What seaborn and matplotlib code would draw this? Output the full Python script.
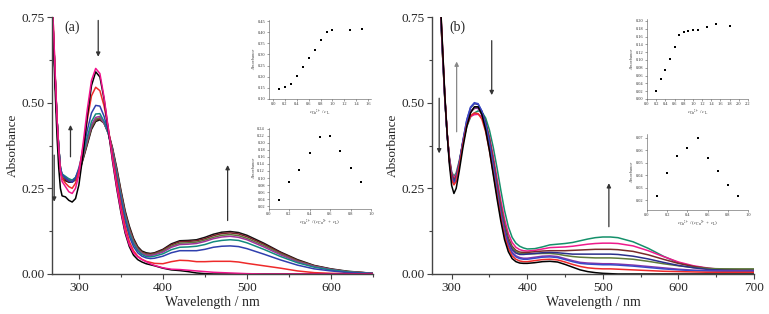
import seaborn as sns
import matplotlib
matplotlib.use('Agg')
import matplotlib.pyplot as plt
import pandas as pd

# ---- panel (a) spectra ----
wl_a = [268, 270, 272, 274, 276, 278, 280, 284, 288, 292, 296, 300, 305, 310, 315, 320, 325, 330,
        335, 340, 345, 350, 355, 360, 365, 370, 375, 380, 385, 390, 400, 410, 420, 430, 440, 450,
        460, 470, 480, 490, 500, 520, 540, 560, 580, 600, 620, 650]
a_black_end = [0.80, 0.68, 0.56, 0.45, 0.37, 0.31, 0.278, 0.272, 0.268, 0.268, 0.275, 0.293, 0.335, 0.378, 0.422, 0.445, 0.45, 0.44,
               0.414, 0.368, 0.31, 0.245, 0.185, 0.14, 0.104, 0.08, 0.067, 0.062, 0.06, 0.062, 0.072, 0.088, 0.097, 0.098, 0.100, 0.107,
               0.116, 0.122, 0.124, 0.121, 0.113, 0.090, 0.064, 0.042, 0.025, 0.015, 0.008, 0.002]
a_brown = [0.80, 0.68, 0.56, 0.45, 0.37, 0.31, 0.282, 0.276, 0.27, 0.27, 0.277, 0.296, 0.338, 0.382, 0.427, 0.449, 0.453, 0.44,
           0.412, 0.365, 0.305, 0.24, 0.18, 0.135, 0.10, 0.077, 0.064, 0.059, 0.058, 0.06, 0.070, 0.085, 0.094, 0.095, 0.097, 0.103,
           0.112, 0.118, 0.120, 0.117, 0.109, 0.087, 0.062, 0.040, 0.024, 0.014, 0.007, 0.002]
a_olive = [0.80, 0.68, 0.56, 0.45, 0.37, 0.31, 0.285, 0.28, 0.274, 0.272, 0.278, 0.298, 0.34, 0.385, 0.43, 0.452, 0.456, 0.44,
           0.41, 0.362, 0.30, 0.235, 0.175, 0.13, 0.096, 0.074, 0.062, 0.057, 0.056, 0.058, 0.067, 0.081, 0.090, 0.091, 0.093, 0.099,
           0.107, 0.113, 0.115, 0.112, 0.104, 0.083, 0.059, 0.038, 0.023, 0.013, 0.007, 0.002]
a_purple = [0.80, 0.68, 0.56, 0.45, 0.37, 0.31, 0.29, 0.283, 0.277, 0.273, 0.28, 0.30, 0.345, 0.39, 0.435, 0.457, 0.46, 0.44,
            0.41, 0.36, 0.295, 0.23, 0.17, 0.125, 0.092, 0.071, 0.06, 0.055, 0.054, 0.056, 0.064, 0.078, 0.086, 0.087, 0.089, 0.095,
            0.103, 0.108, 0.110, 0.107, 0.100, 0.079, 0.056, 0.036, 0.022, 0.013, 0.006, 0.002]
a_teal = [0.80, 0.68, 0.56, 0.45, 0.37, 0.31, 0.292, 0.285, 0.278, 0.274, 0.282, 0.305, 0.35, 0.40, 0.445, 0.467, 0.468, 0.445,
          0.41, 0.355, 0.29, 0.225, 0.165, 0.12, 0.088, 0.068, 0.057, 0.051, 0.05, 0.052, 0.059, 0.071, 0.078, 0.079, 0.081, 0.086,
          0.094, 0.098, 0.100, 0.098, 0.091, 0.072, 0.051, 0.033, 0.020, 0.012, 0.006, 0.001]
a_blue = [0.80, 0.68, 0.56, 0.45, 0.37, 0.31, 0.29, 0.28, 0.272, 0.268, 0.28, 0.31, 0.36, 0.42, 0.47, 0.492, 0.49, 0.46,
          0.415, 0.35, 0.28, 0.215, 0.155, 0.11, 0.08, 0.062, 0.052, 0.047, 0.045, 0.046, 0.052, 0.062, 0.068, 0.068, 0.068, 0.072,
          0.078, 0.081, 0.082, 0.080, 0.074, 0.058, 0.041, 0.026, 0.015, 0.009, 0.004, 0.001]
a_red = [0.82, 0.70, 0.57, 0.45, 0.36, 0.30, 0.28, 0.265, 0.255, 0.25, 0.265, 0.30, 0.37, 0.45, 0.52, 0.545, 0.535, 0.49,
         0.425, 0.345, 0.27, 0.20, 0.14, 0.095, 0.068, 0.052, 0.043, 0.037, 0.034, 0.031, 0.030, 0.036, 0.040, 0.039, 0.036, 0.036,
         0.037, 0.037, 0.037, 0.035, 0.031, 0.024, 0.017, 0.009, 0.004, 0.002, 0.001, 0.0]
a_black_start = [0.80, 0.66, 0.52, 0.40, 0.31, 0.25, 0.228, 0.225, 0.215, 0.21, 0.22, 0.26, 0.35, 0.46, 0.55, 0.59, 0.575, 0.51,
                 0.42, 0.33, 0.25, 0.18, 0.12, 0.08, 0.055, 0.042, 0.035, 0.03, 0.027, 0.024, 0.017, 0.012, 0.010, 0.007, 0.003, 0.001,
                 0.0, 0.0, 0.0, 0.0, 0.0, 0.0, 0.0, 0.0, 0.0, 0.0, 0.0, 0.0]
a_pink = [0.82, 0.70, 0.57, 0.45, 0.36, 0.30, 0.27, 0.255, 0.24, 0.235, 0.25, 0.29, 0.38, 0.48, 0.565, 0.60, 0.585, 0.515,
          0.425, 0.335, 0.255, 0.185, 0.125, 0.085, 0.062, 0.05, 0.042, 0.036, 0.03, 0.025, 0.018, 0.014, 0.013, 0.011, 0.009, 0.007,
          0.005, 0.004, 0.003, 0.002, 0.001, 0.0, 0.0, 0.0, 0.0, 0.0, 0.0, 0.0]

# ---- panel (b) spectra ----
wl_b = [285, 288, 291, 294, 297, 300, 303, 306, 310, 315, 320, 325, 330, 335, 340, 345, 350, 355, 360, 365, 370, 375,
        380, 385, 390, 395, 400, 410, 420, 430, 440, 450, 460, 470, 480, 490, 500, 510, 520, 540, 560, 580, 600, 620,
        640, 660, 680, 700]
b_green = [0.78, 0.64, 0.51, 0.41, 0.34, 0.298, 0.285, 0.295, 0.33, 0.385, 0.43, 0.458, 0.47, 0.476, 0.473, 0.455, 0.42, 0.37,
           0.31, 0.245, 0.185, 0.138, 0.107, 0.09, 0.081, 0.076, 0.073, 0.074, 0.079, 0.085, 0.087, 0.089, 0.092, 0.097, 0.102,
           0.106, 0.108, 0.108, 0.106, 0.094, 0.075, 0.052, 0.033, 0.022, 0.016, 0.014, 0.013, 0.013]
b_pink = [0.78, 0.64, 0.51, 0.41, 0.34, 0.295, 0.28, 0.29, 0.325, 0.385, 0.435, 0.46, 0.465, 0.466, 0.46, 0.44, 0.40, 0.345,
          0.28, 0.215, 0.16, 0.118, 0.092, 0.078, 0.071, 0.068, 0.067, 0.069, 0.073, 0.077, 0.078, 0.079, 0.081, 0.084, 0.087,
          0.089, 0.09, 0.09, 0.089, 0.082, 0.068, 0.051, 0.035, 0.024, 0.017, 0.013, 0.011, 0.010]
b_brown = [0.78, 0.64, 0.51, 0.41, 0.335, 0.29, 0.275, 0.285, 0.322, 0.385, 0.44, 0.473, 0.483, 0.485, 0.473, 0.443, 0.395, 0.333,
           0.265, 0.2, 0.145, 0.105, 0.081, 0.069, 0.064, 0.063, 0.063, 0.065, 0.067, 0.068, 0.068, 0.068, 0.069, 0.07, 0.071,
           0.072, 0.072, 0.072, 0.071, 0.066, 0.056, 0.043, 0.031, 0.022, 0.016, 0.013, 0.012, 0.011]
b_olive = [0.78, 0.64, 0.51, 0.41, 0.335, 0.285, 0.27, 0.28, 0.32, 0.385, 0.44, 0.475, 0.485, 0.485, 0.47, 0.438, 0.388, 0.325,
           0.258, 0.193, 0.138, 0.098, 0.076, 0.065, 0.06, 0.059, 0.059, 0.059, 0.06, 0.06, 0.058, 0.054, 0.051, 0.049, 0.048,
           0.047, 0.047, 0.047, 0.046, 0.043, 0.037, 0.030, 0.024, 0.019, 0.016, 0.015, 0.015, 0.015]
b_navy = [0.79, 0.65, 0.515, 0.41, 0.335, 0.285, 0.27, 0.28, 0.322, 0.39, 0.448, 0.485, 0.497, 0.495, 0.475, 0.44, 0.387, 0.32,
          0.25, 0.185, 0.13, 0.093, 0.071, 0.061, 0.057, 0.057, 0.058, 0.06, 0.062, 0.063, 0.062, 0.06, 0.058, 0.058, 0.058,
          0.058, 0.058, 0.058, 0.057, 0.052, 0.044, 0.034, 0.025, 0.018, 0.013, 0.011, 0.010, 0.010]
b_purple = [0.79, 0.65, 0.515, 0.41, 0.33, 0.28, 0.265, 0.275, 0.318, 0.385, 0.44, 0.475, 0.485, 0.483, 0.465, 0.43, 0.378, 0.31,
            0.242, 0.178, 0.124, 0.087, 0.064, 0.053, 0.048, 0.046, 0.046, 0.049, 0.052, 0.053, 0.051, 0.045, 0.039, 0.034, 0.032,
            0.031, 0.030, 0.030, 0.029, 0.026, 0.022, 0.018, 0.014, 0.011, 0.010, 0.009, 0.009, 0.009]
b_blue = [0.79, 0.65, 0.515, 0.41, 0.33, 0.28, 0.265, 0.275, 0.32, 0.39, 0.45, 0.487, 0.50, 0.497, 0.475, 0.435, 0.38, 0.31,
          0.24, 0.175, 0.12, 0.083, 0.06, 0.05, 0.045, 0.043, 0.043, 0.046, 0.049, 0.05, 0.048, 0.042, 0.036, 0.031, 0.029,
          0.028, 0.027, 0.027, 0.026, 0.023, 0.019, 0.015, 0.012, 0.010, 0.009, 0.008, 0.008, 0.008]
b_red = [0.80, 0.66, 0.52, 0.415, 0.33, 0.275, 0.26, 0.27, 0.315, 0.38, 0.435, 0.462, 0.47, 0.468, 0.452, 0.415, 0.36, 0.295,
         0.23, 0.165, 0.11, 0.075, 0.053, 0.043, 0.038, 0.036, 0.036, 0.039, 0.042, 0.043, 0.041, 0.035, 0.028, 0.022, 0.018,
         0.016, 0.015, 0.015, 0.014, 0.012, 0.010, 0.008, 0.007, 0.006, 0.005, 0.005, 0.005, 0.005]
b_black = [0.80, 0.66, 0.52, 0.41, 0.32, 0.258, 0.235, 0.25, 0.30, 0.37, 0.43, 0.47, 0.488, 0.488, 0.465, 0.42, 0.36, 0.29,
           0.22, 0.155, 0.10, 0.065, 0.045, 0.036, 0.032, 0.031, 0.031, 0.033, 0.036, 0.037, 0.035, 0.028, 0.020, 0.012, 0.007,
           0.004, 0.002, 0.001, 0.0, 0.0, 0.0, 0.0, 0.0, 0.0, 0.0, 0.0, 0.0, 0.0]

# ---- insets ----
a1_ratio = [0.1, 0.2, 0.3, 0.4, 0.5, 0.6, 0.7, 0.8, 0.9, 1.0, 1.3, 1.5]
a1_abs = [0.147, 0.155, 0.168, 0.205, 0.245, 0.283, 0.322, 0.365, 0.402, 0.408, 0.409, 0.413]
a2_frac = [0.1, 0.2, 0.3, 0.4, 0.5, 0.6, 0.7, 0.8, 0.9]
a2_abs = [0.038, 0.088, 0.123, 0.170, 0.217, 0.219, 0.177, 0.129, 0.090]
b1_ratio = [0.2, 0.3, 0.4, 0.5, 0.6, 0.7, 0.8, 0.9, 1.0, 1.1, 1.3, 1.5, 1.8]
b1_abs = [0.021, 0.050, 0.074, 0.103, 0.132, 0.163, 0.171, 0.174, 0.178, 0.177, 0.185, 0.191, 0.186]
b2_frac = [0.1, 0.2, 0.3, 0.4, 0.5, 0.6, 0.7, 0.8, 0.9]
b2_abs = [0.023, 0.042, 0.055, 0.062, 0.070, 0.054, 0.043, 0.032, 0.023]

sns.set_style("ticks")
plt.rcParams['font.family'] = ['Liberation Serif', 'DejaVu Serif']
plt.rcParams['mathtext.fontset'] = 'stix'

W, H = 769, 314
fig = plt.figure(figsize=(W / 100, H / 100), dpi=100)


def box(l, r, t, b):
    return [l / W, 1 - b / H, (r - l) / W, (b - t) / H]


def spectra(ax, wl, curves, colors):
    rows = []
    for name, vals in curves.items():
        for w, v in zip(wl, vals):
            rows.append((w, v, name))
    df = pd.DataFrame(rows, columns=['wl', 'A', 'series'])
    sns.lineplot(data=df, x='wl', y='A', hue='series', palette=colors, hue_order=list(curves),
                 estimator=None, legend=False, lw=1.1, ax=ax)


def style_main(ax, xlim, xticks):
    ax.set_xlim(*xlim)
    ax.set_ylim(0, 0.75)
    ax.set_xticks(xticks)
    minors = [t + 50 for t in xticks if t + 50 <= xlim[1]] + [xticks[0] - 50] * (xticks[0] - 50 >= xlim[0])
    ax.set_xticks(minors, minor=True)
    ax.set_yticks([0, 0.25, 0.5, 0.75])
    ax.set_yticks([0.125, 0.375, 0.625], minor=True)
    ax.set_yticklabels(['0.00', '0.25', '0.50', '0.75'])
    ax.tick_params(which='major', length=3.5, width=0.8, labelsize=9.5, pad=2, color='#444444')
    ax.tick_params(which='minor', length=2, width=0.8, color='#444444')
    ax.set_xlabel('Wavelength / nm', fontsize=10, labelpad=2)
    ax.set_ylabel('Absorbance', fontsize=9.5, labelpad=1.5)
    for s in ['left', 'bottom']:
        ax.spines[s].set_color('#444444')
        ax.spines[s].set_linewidth(1.0)
    sns.despine(ax=ax)


def style_inset(ax, xlim, xticks, ylim, yticks, xlabel, fmt):
    ax.set_xlim(*xlim)
    ax.set_ylim(*ylim)
    ax.set_xticks(xticks)
    ax.set_xticklabels(['%.1f' % t for t in xticks])
    ax.set_yticks(yticks)
    ax.set_yticklabels([fmt % t for t in yticks])
    ax.tick_params(length=1.5, width=0.4, labelsize=3.2, pad=1, color='#555555', labelcolor='#333333')
    ax.set_ylabel('Absorbance', fontsize=3.2, labelpad=1, color='#333333', style='italic')
    ax.set_xlabel(xlabel, fontsize=3.8, labelpad=1, color='#333333')
    for s in ['left', 'bottom']:
        ax.spines[s].set_linewidth(0.4)
        ax.spines[s].set_color('#555555')
    ax.patch.set_alpha(0)
    sns.despine(ax=ax)


def arrow(ax, x0, y0, x1, y1, color='#333333'):
    ax.annotate('', xy=(x1, y1), xytext=(x0, y0),
                arrowprops=dict(arrowstyle='-|>', color=color, lw=0.9, mutation_scale=6, shrinkA=0, shrinkB=0))


# panel (a)
ax_a = fig.add_axes(box(52, 373, 17, 274))
curves_a = {'black_end': a_black_end, 'brown': a_brown, 'olive': a_olive, 'purple': a_purple,
            'teal': a_teal, 'blue': a_blue, 'red': a_red, 'black_start': a_black_start, 'pink': a_pink}
colors_a = {'black_end': '#111111', 'brown': '#7a1f2b', 'olive': '#5f7a3a', 'purple': '#a0329a',
            'teal': '#138a7e', 'blue': '#2f3fae', 'red': '#ee2a2a', 'black_start': '#000000', 'pink': '#f0138c'}
spectra(ax_a, wl_a, curves_a, colors_a)
style_main(ax_a, (268, 650), [300, 400, 500, 600])
ax_a.text(292, 0.72, '(a)', fontsize=10, ha='center', va='center')
arrow(ax_a, 323, 0.74, 323, 0.634)
arrow(ax_a, 290, 0.342, 290, 0.435)
arrow(ax_a, 270.6, 0.347, 270.6, 0.211)
arrow(ax_a, 477, 0.156, 477, 0.318)

# panel (b)
ax_b = fig.add_axes(box(432, 754, 17, 274))
curves_b = {'green': b_green, 'pink': b_pink, 'brown': b_brown, 'olive': b_olive, 'navy': b_navy,
            'purple': b_purple, 'blue': b_blue, 'red': b_red, 'black': b_black}
colors_b = {'green': '#14906a', 'pink': '#ee1a8c', 'brown': '#7a2a2a', 'olive': '#5f7a3a', 'navy': '#2a2f8a',
            'purple': '#8a35a8', 'blue': '#3a48c8', 'red': '#ee2a2a', 'black': '#000000'}
spectra(ax_b, wl_b, curves_b, colors_b)
style_main(ax_b, (274, 700), [300, 400, 500, 600, 700])
ax_b.text(308, 0.72, '(b)', fontsize=10, ha='center', va='center')
arrow(ax_b, 353, 0.681, 353, 0.522)
arrow(ax_b, 306.6, 0.415, 306.6, 0.62, color='#888888')
arrow(ax_b, 283.5, 0.513, 283.5, 0.352)
arrow(ax_b, 508, 0.138, 508, 0.265)

lab1 = r'$c_{\mathrm{Cu}^{2+}}$ / $c_{\mathrm{L}}$'
lab2 = r'$c_{\mathrm{Cu}^{2+}}$ / ($c_{\mathrm{Cu}^{2+}}$ + $c_{\mathrm{L}}$)'

ia1 = fig.add_axes(box(269, 371, 20, 99))
sns.scatterplot(x=a1_ratio, y=a1_abs, marker='s', s=3.5, color='black', linewidth=0, ax=ia1)
style_inset(ia1, (-0.07, 1.65), [0.0, 0.2, 0.4, 0.6, 0.8, 1.0, 1.2, 1.4, 1.6], (0.10, 0.455),
            [0.10, 0.15, 0.20, 0.25, 0.30, 0.35, 0.40, 0.45], lab1, '%.2f')

ia2 = fig.add_axes(box(268.5, 371, 128, 209))
sns.scatterplot(x=a2_frac, y=a2_abs, marker='s', s=3.5, color='black', linewidth=0, ax=ia2)
style_inset(ia2, (0, 1.0), [0.0, 0.2, 0.4, 0.6, 0.8, 1.0], (0.012, 0.242),
            [0.02, 0.04, 0.06, 0.08, 0.10, 0.12, 0.14, 0.16, 0.18, 0.20, 0.22, 0.24], lab2, '%.2f')

ib1 = fig.add_axes(box(647, 748, 19, 99))
sns.scatterplot(x=b1_ratio, y=b1_abs, marker='s', s=3.5, color='black', linewidth=0, ax=ib1)
style_inset(ib1, (0, 2.2), [0.0, 0.2, 0.4, 0.6, 0.8, 1.0, 1.2, 1.4, 1.6, 1.8, 2.0, 2.2], (0, 0.205),
            [0.00, 0.02, 0.04, 0.06, 0.08, 0.10, 0.12, 0.14, 0.16, 0.18, 0.20], lab1, '%.2f')

ib2 = fig.add_axes(box(647, 748, 134, 210))
sns.scatterplot(x=b2_frac, y=b2_abs, marker='s', s=3.5, color='black', linewidth=0, ax=ib2)
style_inset(ib2, (0, 1.0), [0.0, 0.2, 0.4, 0.6, 0.8, 1.0], (0.012, 0.073),
            [0.02, 0.03, 0.04, 0.05, 0.06, 0.07], lab2, '%.2f')

fig.savefig('out.png', dpi=100, facecolor='white')
